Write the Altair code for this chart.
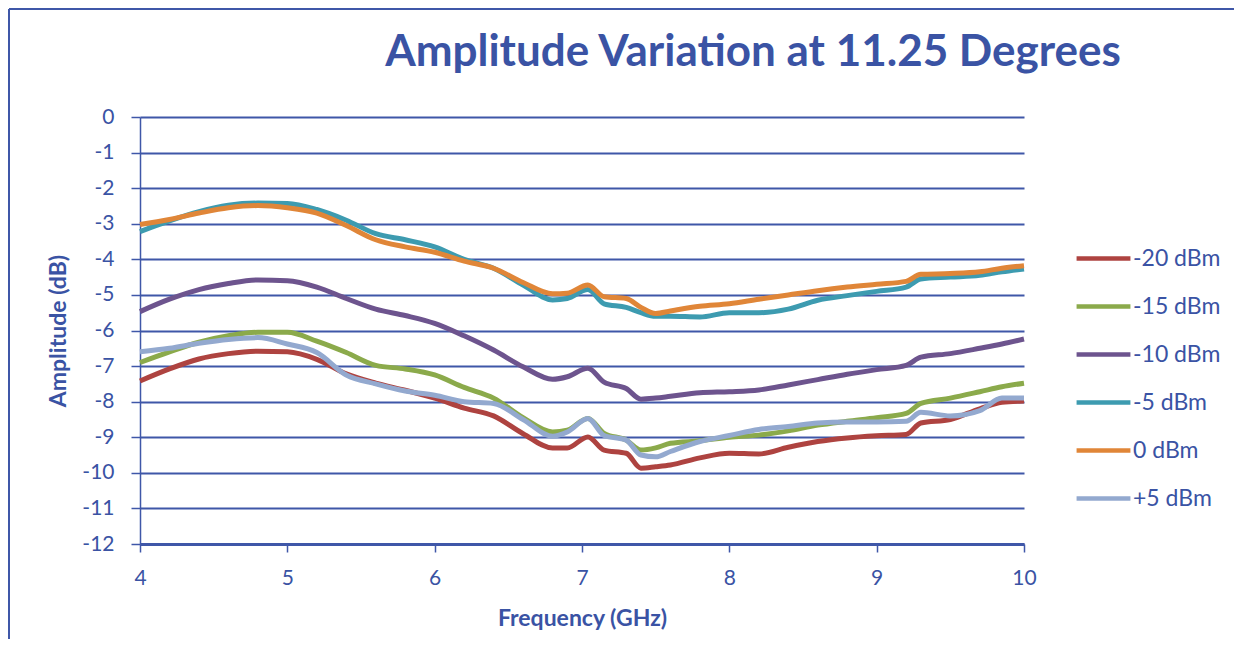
import altair as alt
import pandas as pd

freq = [4.0, 4.2, 4.4, 4.6, 4.8, 5.0, 5.2, 5.4, 5.6, 5.8, 6.0, 6.2, 6.4, 6.6, 6.8, 6.9,
        7.04, 7.15, 7.3, 7.4, 7.5, 7.6, 7.8, 8.0, 8.2, 8.4, 8.6, 8.8, 9.0, 9.2, 9.3,
        9.5, 9.7, 9.85, 10.0]

s_m20 = [-7.42, -7.08, -6.8, -6.65, -6.58, -6.6, -6.81, -7.22, -7.48, -7.68, -7.9, -8.18,
         -8.4, -8.9, -9.3, -9.3, -8.99, -9.36, -9.45, -9.87, -9.83, -9.78, -9.58, -9.45,
         -9.47, -9.28, -9.12, -9.02, -8.96, -8.92, -8.6, -8.5, -8.2, -8.02, -7.98]
s_m15 = [-6.9, -6.6, -6.33, -6.15, -6.05, -6.05, -6.3, -6.62, -6.98, -7.08, -7.25, -7.6,
         -7.9, -8.45, -8.85, -8.8, -8.47, -8.89, -9.08, -9.36, -9.3, -9.17, -9.1, -9.0,
         -8.94, -8.82, -8.66, -8.55, -8.45, -8.33, -8.05, -7.9, -7.72, -7.58, -7.48]
s_m10 = [-5.47, -5.12, -4.85, -4.68, -4.58, -4.6, -4.78, -5.1, -5.4, -5.58, -5.8, -6.15,
         -6.55, -7.02, -7.37, -7.3, -7.06, -7.45, -7.63, -7.93, -7.9, -7.85, -7.75, -7.72,
         -7.67, -7.53, -7.38, -7.23, -7.1, -6.98, -6.75, -6.65, -6.5, -6.38, -6.24]
s_m5 = [-3.22, -2.92, -2.66, -2.48, -2.42, -2.43, -2.6, -2.9, -3.28, -3.45, -3.65, -4.0,
        -4.25, -4.72, -5.14, -5.1, -4.85, -5.25, -5.35, -5.5, -5.6, -5.6, -5.62, -5.5,
        -5.5, -5.4, -5.15, -5.02, -4.9, -4.78, -4.55, -4.5, -4.45, -4.35, -4.27]
s_0 = [-3.02, -2.88, -2.7, -2.55, -2.49, -2.55, -2.7, -3.05, -3.45, -3.65, -3.8, -4.05,
       -4.25, -4.65, -4.97, -4.95, -4.72, -5.05, -5.1, -5.35, -5.52, -5.45, -5.32, -5.25,
       -5.12, -5.0, -4.88, -4.78, -4.7, -4.62, -4.42, -4.4, -4.35, -4.25, -4.18]
s_p5 = [-6.6, -6.5, -6.36, -6.25, -6.2, -6.38, -6.62, -7.25, -7.5, -7.7, -7.82, -8.0,
        -8.05, -8.5, -8.97, -8.85, -8.47, -8.95, -9.08, -9.5, -9.55, -9.4, -9.12, -8.95,
        -8.78, -8.7, -8.6, -8.57, -8.57, -8.55, -8.3, -8.4, -8.25, -7.9, -7.9]

series_names = ["-20 dBm", "-15 dBm", "-10 dBm", "-5 dBm", "0 dBm", "+5 dBm"]
series_values = [s_m20, s_m15, s_m10, s_m5, s_0, s_p5]
colors = ["#AE4340", "#8BAA4B", "#6D548E", "#3D9BB0", "#E08638", "#93A9CF"]
x_ticks = [4, 5, 6, 7, 8, 9, 10]
y_ticks = list(range(-12, 1))
title_text = "Amplitude Variation at 11.25 Degrees"

rows = []
for i, (name, vals) in enumerate(zip(series_names, series_values)):
    for f, v in zip(freq, vals):
        rows.append({"Frequency": f, "Amplitude": v, "Series": name, "idx": i})
df = pd.DataFrame(rows)

BLUE = "#3A53A4"
GRID = "#3F57A8"
FONT = "Lato"

lines = alt.Chart(df).mark_line(strokeWidth=5, interpolate="monotone").encode(
    x=alt.X("Frequency:Q",
            scale=alt.Scale(domain=[4, 10], nice=False, zero=False),
            axis=alt.Axis(title="Frequency (GHz)", values=x_ticks, grid=False,
                          domainColor=GRID, domainWidth=3, tickColor=GRID, tickWidth=1.5,
                          tickSize=8, labelFontSize=21, labelColor=BLUE, labelFont=FONT,
                          labelFlush=False, labelPadding=15, titleFontSize=23,
                          titleColor=BLUE, titleFont=FONT, titleFontWeight="bold",
                          titlePadding=19)),
    y=alt.Y("Amplitude:Q",
            scale=alt.Scale(domain=[-12, 0], nice=False, zero=False),
            axis=alt.Axis(title="Amplitude (dB)", values=y_ticks, grid=True,
                          gridColor=GRID, gridWidth=2, gridOpacity=1,
                          domainColor=GRID, domainWidth=1.5, tickColor=GRID, tickWidth=1.5,
                          tickSize=9, labelFontSize=21, labelColor=BLUE, labelFont=FONT,
                          labelPadding=17, labelExpr="'' + datum.value",
                          titleFontSize=23, titleColor=BLUE, titleFont=FONT,
                          titleFontWeight="bold", titlePadding=11)),
    color=alt.Color("Series:N",
                    scale=alt.Scale(domain=series_names, range=colors),
                    legend=alt.Legend(title=None, orient="none", legendX=934, legendY=112,
                                      symbolType="stroke", symbolStrokeWidth=4.5,
                                      symbolSize=2900, labelFontSize=23, labelColor=BLUE,
                                      labelFont=FONT, labelOffset=0, rowPadding=6,
                                      padding=0)),
    order=alt.Order("idx:Q"),
)

frame_df = pd.DataFrame({"k": [0]})
left_edge = alt.Chart(frame_df).mark_rule(color=GRID, strokeWidth=2).encode(
    x=alt.value(-131), y=alt.value(-108), y2=alt.value(560))
top_edge = alt.Chart(frame_df).mark_rule(color=GRID, strokeWidth=2).encode(
    x=alt.value(-131), x2=alt.value(1110), y=alt.value(-108))
title_mark = alt.Chart(frame_df).mark_text(
    font=FONT, fontSize=44, fontWeight="bold", color=BLUE, align="center",
    baseline="alphabetic").encode(
    x=alt.value(613), y=alt.value(-51), text=alt.value(title_text))

chart = alt.layer(lines, left_edge, top_edge, title_mark).properties(
    width=884, height=427,
    padding={"left": 132, "top": 109, "right": 210, "bottom": 95},
    autosize=alt.AutoSizeParams(type="none"),
).configure_view(stroke=None)

chart.save("out.html", embed_options={"renderer": "svg", "actions": False})
